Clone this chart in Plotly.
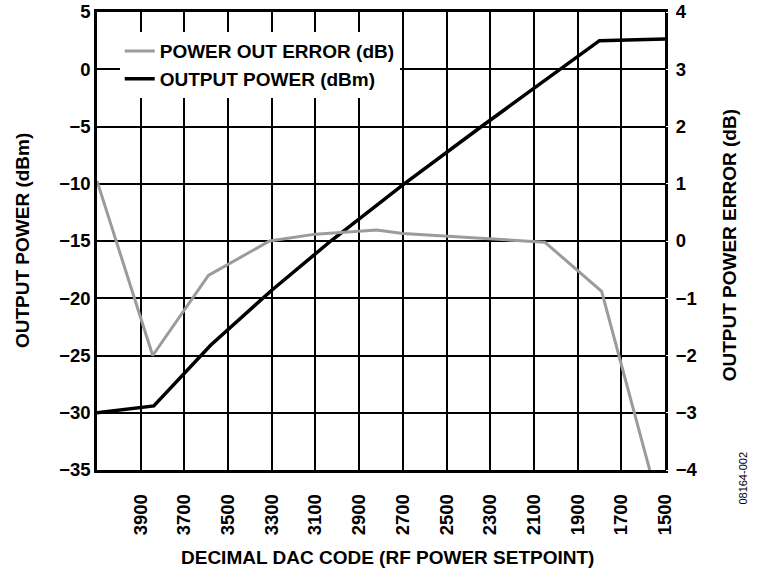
import plotly.graph_objects as go

# dados
dac_potencia = [4100, 3840, 3580, 3300, 3030, 2700, 2340, 1980, 1800, 1500]
potencia_dbm = [-30.0, -29.4, -24.1, -19.3, -15.0, -10.1, -5.0, 0.0, 2.5, 2.65]

dac_erro = [4100, 3845, 3590, 3310, 3100, 2820, 2700, 2300, 2050, 1790, 1570]
erro_db = [1.05, -2.0, -0.6, 0.0, 0.12, 0.19, 0.13, 0.03, -0.02, -0.88, -4.0]

ticks_x = [3900, 3700, 3500, 3300, 3100, 2900, 2700, 2500, 2300, 2100, 1900, 1700, 1500]

FONTE = 'Liberation Sans, Arial, sans-serif'

fig = go.Figure()

fig.add_trace(go.Scatter(
    x=dac_erro, y=erro_db,
    mode='lines',
    line=dict(color='#9b9b9b', width=3),
    name='<b>POWER OUT ERROR (dB)</b>',
    yaxis='y2'
))

fig.add_trace(go.Scatter(
    x=dac_potencia, y=potencia_dbm,
    mode='lines',
    line=dict(color='black', width=3.5),
    name='<b>OUTPUT POWER (dBm)</b>'
))

fig.update_layout(
    width=759, height=573,
    template='plotly_white',
    plot_bgcolor='white',
    paper_bgcolor='white',
    margin=dict(l=97, r=94, t=12, b=103, autoexpand=False),
    font=dict(family=FONTE, color='black'),
    legend=dict(
        x=0.04, y=0.956, xanchor='left', yanchor='top',
        bgcolor='white', borderwidth=0,
        font=dict(size=19, family=FONTE, color='black'),
        tracegroupgap=0, itemwidth=30
    ),
    xaxis=dict(
        range=[4100, 1500],
        tickvals=ticks_x,
        tickangle=-90,
        tickfont=dict(size=18.5, family=FONTE, weight='bold'),
        ticks='outside', ticklen=14, tickcolor='white',
        showgrid=True, gridcolor='black', gridwidth=1.5,
        showline=True, linecolor='black', linewidth=2.5, mirror=True,
        zeroline=False, automargin=False
    ),
    yaxis=dict(
        range=[-35, 5], dtick=5,
        tickfont=dict(size=18.5, family=FONTE, weight='bold'),
        showgrid=True, gridcolor='black', gridwidth=1.5,
        showline=True, linecolor='black', linewidth=2.5, mirror=True,
        zeroline=False, automargin=False, ticklabeloverflow='allow'
    ),
    yaxis2=dict(
        range=[-4, 4], dtick=1,
        overlaying='y', side='right',
        tickfont=dict(size=18.5, family=FONTE, weight='bold'),
        showgrid=False, zeroline=False, automargin=False,
        ticks='outside', ticklen=6, tickcolor='white',
        ticklabeloverflow='allow'
    )
)

# títulos dos eixos como anotações, para posicionar como no original
titulo = dict(size=19, family=FONTE, color='black')
fig.add_annotation(text='<b>DECIMAL DAC CODE (RF POWER SETPOINT)</b>',
                   xref='paper', yref='paper', x=0.512, y=-0.19,
                   xanchor='center', yanchor='middle', showarrow=False, font=titulo)
fig.add_annotation(text='<b>OUTPUT POWER (dBm)</b>', textangle=-90,
                   xref='paper', yref='paper', x=-0.132, y=0.5,
                   xanchor='center', yanchor='middle', showarrow=False, font=titulo)
fig.add_annotation(text='<b>OUTPUT POWER ERROR (dB)</b>', textangle=-90,
                   xref='paper', yref='paper', x=1.114, y=0.49,
                   xanchor='center', yanchor='middle', showarrow=False, font=titulo)

fig.add_annotation(
    text='08164-002', textangle=-90,
    xref='paper', yref='paper', x=1.137, y=-0.017,
    xanchor='center', yanchor='middle',
    showarrow=False, font=dict(size=11, family=FONTE, color='black')
)

# tira a margem padrão do body para a figura ocupar a janela inteira
fig.write_html('out.html', config={'displayModeBar': False},
               post_script="document.body.style.margin='0';")
